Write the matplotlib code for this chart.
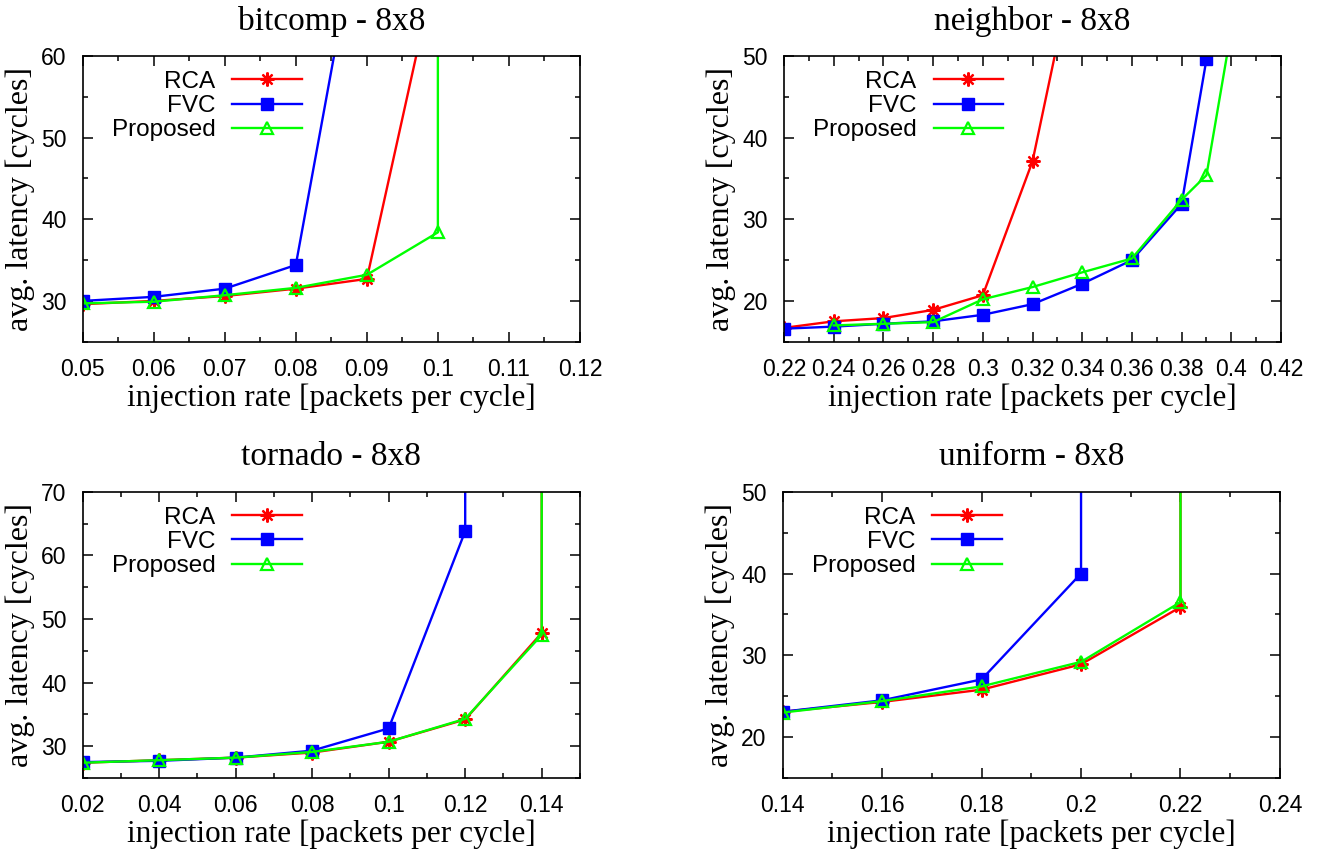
import matplotlib
matplotlib.use('Agg')
from matplotlib import pyplot as plt
from matplotlib.ticker import MultipleLocator, FormatStrFormatter

# bitcomp - 8x8
bc_rca_x = [0.05, 0.06, 0.07, 0.08, 0.09, 0.10]
bc_rca_y = [29.6, 30.0, 30.6, 31.5, 32.7, 72.0]
bc_fvc_x = [0.05, 0.06, 0.07, 0.08, 0.09]
bc_fvc_y = [30.0, 30.5, 31.5, 34.4, 82.0]
bc_prop_x = [0.05, 0.06, 0.07, 0.08, 0.09, 0.10, 0.10]
bc_prop_y = [29.7, 29.9, 30.7, 31.6, 33.2, 38.4, 120.0]

# neighbor - 8x8
nb_rca_x = [0.22, 0.24, 0.26, 0.28, 0.30, 0.32, 0.34]
nb_rca_y = [16.7, 17.5, 17.9, 18.9, 20.7, 37.1, 66.0]
nb_fvc_x = [0.22, 0.24, 0.26, 0.28, 0.30, 0.32, 0.34, 0.36, 0.38, 0.39]
nb_fvc_y = [16.6, 16.85, 17.2, 17.5, 18.3, 19.6, 22.1, 25.0, 31.9, 49.6]
nb_prop_x = [0.24, 0.26, 0.28, 0.30, 0.32, 0.34, 0.36, 0.38, 0.39, 0.40]
nb_prop_y = [17.0, 17.2, 17.4, 20.2, 21.7, 23.5, 25.2, 32.4, 35.4, 53.2]

# tornado - 8x8
tn_rca_x = [0.02, 0.04, 0.06, 0.08, 0.10, 0.12, 0.14, 0.14]
tn_rca_y = [27.4, 27.8, 28.2, 29.0, 30.7, 34.2, 47.8, 150.0]
tn_fvc_x = [0.02, 0.04, 0.06, 0.08, 0.10, 0.12, 0.12]
tn_fvc_y = [27.5, 27.7, 28.2, 29.3, 32.8, 63.8, 150.0]
tn_prop_x = [0.02, 0.04, 0.06, 0.08, 0.10, 0.12, 0.14, 0.14]
tn_prop_y = [27.4, 27.8, 28.2, 29.1, 30.7, 34.3, 47.5, 150.0]

# uniform - 8x8
un_rca_x = [0.14, 0.16, 0.18, 0.20, 0.22, 0.22]
un_rca_y = [23.1, 24.3, 25.8, 28.9, 35.9, 100.0]
un_fvc_x = [0.14, 0.16, 0.18, 0.20, 0.20]
un_fvc_y = [23.1, 24.5, 27.05, 40.0, 100.0]
un_prop_x = [0.14, 0.16, 0.18, 0.20, 0.22, 0.22]
un_prop_y = [23.0, 24.4, 26.2, 29.2, 36.5, 100.0]

SANS = 'Liberation Sans'
SERIF = 'Liberation Serif'
STAR = (8, 2, 0)

panels = [
    # title, rect, xlim, xmajor, xminor, ylim, series
    ('bitcomp - 8x8', [0.0624, 0.6031, 0.3753, 0.3318], (0.05, 0.12), 0.01, 0.005, (25, 60),
     (bc_rca_x, bc_rca_y, bc_fvc_x, bc_fvc_y, bc_prop_x, bc_prop_y)),
    ('neighbor - 8x8', [0.5917, 0.6031, 0.3751, 0.3318], (0.22, 0.42), 0.02, 0.01, (15, 50),
     (nb_rca_x, nb_rca_y, nb_fvc_x, nb_fvc_y, nb_prop_x, nb_prop_y)),
    ('tornado - 8x8', [0.0624, 0.0964, 0.3753, 0.3325], (0.02, 0.15), 0.02, 0.01, (25, 70),
     (tn_rca_x, tn_rca_y, tn_fvc_x, tn_fvc_y, tn_prop_x, tn_prop_y)),
    ('uniform - 8x8', [0.5907, 0.0964, 0.3753, 0.3325], (0.14, 0.24), 0.02, 0.01, (15, 50),
     (un_rca_x, un_rca_y, un_fvc_x, un_fvc_y, un_prop_x, un_prop_y)),
]

fig = plt.figure(figsize=(13.25, 8.61), dpi=100)

for title, rect, xlim, xmaj, xmin, ylim, s in panels:
    ax = fig.add_axes(rect)
    rx, ry, fx, fy, px, py = s
    ax.plot(rx, ry, color='#ff0000', lw=1.7, marker=STAR, ms=10, mew=1.6, label='RCA')
    ax.plot(fx, fy, color='#0000ff', lw=1.7, marker='s', ms=8, label='FVC')
    ax.plot(px, py, color='#00ff00', lw=1.7, marker='^', ms=9, mfc='none', mew=1.6,
            label='Proposed')

    ax.set_xlim(*xlim)
    ax.set_ylim(*ylim)
    ax.xaxis.set_major_locator(MultipleLocator(xmaj))
    ax.xaxis.set_minor_locator(MultipleLocator(xmin))
    ax.yaxis.set_major_locator(MultipleLocator(10))
    ax.yaxis.set_minor_locator(MultipleLocator(5))
    ax.xaxis.set_major_formatter(FormatStrFormatter('%g'))
    ax.yaxis.set_major_formatter(FormatStrFormatter('%g'))

    ax.tick_params(which='both', direction='in', top=True, right=True, width=1.1)
    ax.tick_params(which='major', length=7.2, pad=11.5, labelsize=16.5)
    ax.tick_params(which='minor', length=3.6)
    for lbl in ax.get_xticklabels() + ax.get_yticklabels():
        lbl.set_family(SANS)
    for sp in ax.spines.values():
        sp.set_linewidth(1.2)

    ax.set_title(title, family=SERIF, fontsize=24, y=1.122, va='center', pad=0)
    ax.set_xlabel('injection rate [packets per cycle]', family=SERIF, fontsize=22.5)
    ax.set_ylabel('avg. latency [cycles]', family=SERIF, fontsize=23)
    ax.xaxis.label.set_va('center')
    ax.yaxis.label.set_va('center')
    ax.xaxis.set_label_coords(0.5, -0.197)
    ax.yaxis.set_label_coords(-0.126, 0.5)

    ax.legend(loc='upper left', bbox_to_anchor=(0.058, 0.948), frameon=False,
              markerfirst=False, handlelength=2.85, handletextpad=0.7,
              labelspacing=0.09, borderpad=0, borderaxespad=0, numpoints=1,
              prop={'family': SANS, 'size': 17.5})

plt.savefig('out.png', dpi=100)
